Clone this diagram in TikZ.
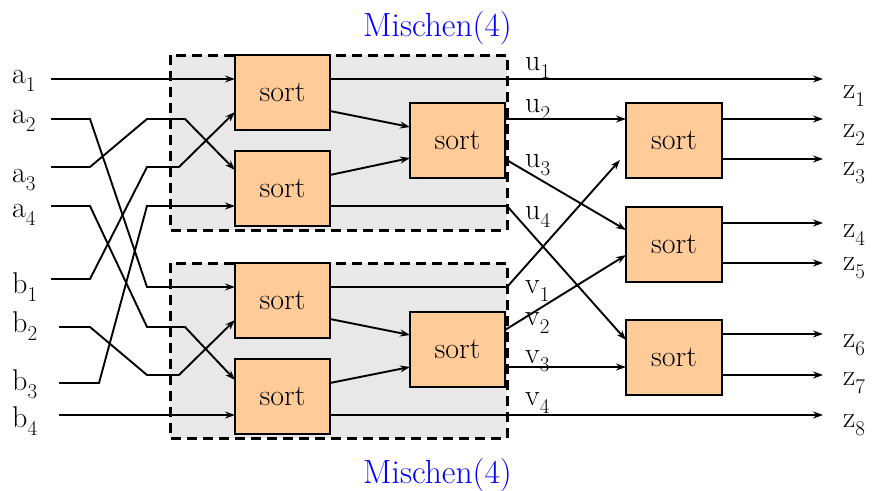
\documentclass[tikz,border=0pt]{standalone}
\usepackage{fontspec}
\setmainfont{Latin Modern Roman}
\usetikzlibrary{arrows.meta}
\definecolor{peach}{RGB}{255,204,153}
\definecolor{boxgrey}{RGB}{232,232,232}
\newcommand{\lbl}[2]{#1\raisebox{-8pt}{\fontsize{21}{21}\selectfont #2}}
\begin{document}
\begin{tikzpicture}[x=1pt,y=-1pt,
  wire/.style={line width=1.9pt},
  arr/.style={wire,-{Stealth[length=10pt,width=7pt]}},
  sortbox/.style={draw,line width=2pt,fill=peach,minimum width=95pt,minimum height=75pt,
    outer sep=0pt,inner sep=0pt,font=\fontsize{30}{36}\selectfont},
  group/.style={fill=boxgrey,draw,line width=3pt,dash pattern=on 10pt off 6pt},
  lab/.style={anchor=base west,inner sep=0pt,font=\fontsize{30}{36}\selectfont},
  title/.style={anchor=base,inner sep=0pt,text=blue,font=\fontsize{33.5}{38}\selectfont}]
\useasboundingbox (0,0) rectangle (875,490);
% groups
\path[group] (170,55) rectangle (507,230);
\path[group] (170,263) rectangle (507,438);
% sort nodes
\node[sortbox] (S1) at (282.5,92.5) {sort};
\node[sortbox] (S2) at (282.5,188.5) {sort};
\node[sortbox] (M1) at (457.5,140.5) {sort};
\node[sortbox] (S3) at (282.5,300.5) {sort};
\node[sortbox] (S4) at (282.5,396.5) {sort};
\node[sortbox] (M2) at (457.5,349) {sort};
\node[sortbox,minimum width=96pt] (R1) at (674,140.5) {sort};
\node[sortbox,minimum width=96pt] (R2) at (674,244.5) {sort};
\node[sortbox,minimum width=96pt] (R3) at (674,357) {sort};
% input coordinates
\coordinate (ia1) at (51,79);
\coordinate (ia2) at (51,119);
\coordinate (ia3) at (51,167);
\coordinate (ia4) at (51,206);
\coordinate (ib1) at (51,279);
\coordinate (ib2) at (59,327);
\coordinate (ib3) at (59,383);
\coordinate (ib4) at (59,415);
% output coordinates
\foreach \n/\y in {1/79,2/119,3/159,4/223,5/263,6/334,7/375,8/415}
  \coordinate (oz\n) at (823,\y);
% inputs
\draw[arr] (ia1) -- (S1.west |- ia1);
\draw[arr] (ia2) -- (90,119) -- (147,287) -- (S3.west |- 0,287);
\draw[arr] (ia3) -- (90,167) -- (147,119) -- (185,119) -- (S2.west |- 0,170);
\draw[arr] (ia4) -- (90,206) -- (147,327) -- (185,327) -- (S4.west |- 0,380);
\draw[arr] (ib1) -- (90,279) -- (147,167) -- (179,167) -- (S1.west |- 0,112);
\draw[arr] (ib2) -- (90,327) -- (147,375) -- (179,375) -- (S3.west |- 0,320);
\draw[arr] (ib3) -- (99,383) -- (147,206) -- (S2.west |- 0,206);
\draw[arr] (ib4) -- (S4.west |- ib4);
% internal
\draw[arr] (S1.east |- 0,111) -- (M1.west |- 0,127);
\draw[arr] (S2.east |- 0,175) -- (M1.west |- 0,158);
\draw[arr] (S3.east |- 0,319) -- (M2.west |- 0,335);
\draw[arr] (S4.east |- 0,383) -- (M2.west |- 0,367);
% outputs of groups
\draw[arr] (S1.east |- oz1) -- (oz1);
\draw[arr] (M1.east |- 0,119) -- (R1.west |- 0,119);
\draw[arr] (M1.east |- 0,159) -- (R2.west |- 0,230);
\draw[arr] (S2.east |- 0,206) -- (507,206) -- (R3.west |- 0,340);
\draw[arr] (S3.east |- 0,287) -- (507,287) -- (620,160);
\draw[arr] (M2.east |- 0,330) -- (R2.west |- 0,255);
\draw[arr] (M2.east |- 0,367) -- (R3.west |- 0,367);
\draw[arr] (S4.east |- oz8) -- (oz8);
% right outputs
\draw[arr] (R1.east |- oz2) -- (oz2);
\draw[arr] (R1.east |- oz3) -- (oz3);
\draw[arr] (R2.east |- oz4) -- (oz4);
\draw[arr] (R2.east |- oz5) -- (oz5);
\draw[arr] (R3.east |- oz6) -- (oz6);
\draw[arr] (R3.east |- oz7) -- (oz7);
% labels
\node[lab] (la1) at (12,83) {\lbl{a}{1}};
\node[lab] (la2) at (12,123) {\lbl{a}{2}};
\node[lab] (la3) at (12,182) {\lbl{a}{3}};
\node[lab] (la4) at (12,217) {\lbl{a}{4}};
\node[lab] (lb1) at (12,293) {\lbl{b}{1}};
\node[lab] (lb2) at (12,332) {\lbl{b}{2}};
\node[lab] (lb3) at (12,390) {\lbl{b}{3}};
\node[lab] (lb4) at (12,427) {\lbl{b}{4}};
\node[lab] (lu1) at (525,70) {\lbl{u}{1}};
\node[lab] (lu2) at (525,112) {\lbl{u}{2}};
\node[lab] (lu3) at (525,167) {\lbl{u}{3}};
\node[lab] (lu4) at (525,219) {\lbl{u}{4}};
\node[lab] (lv1) at (525,293) {\lbl{v}{1}};
\node[lab] (lv2) at (525,325) {\lbl{v}{2}};
\node[lab] (lv3) at (525,363) {\lbl{v}{3}};
\node[lab] (lv4) at (525,405) {\lbl{v}{4}};
\node[lab] (lz1) at (843,98) {\lbl{z}{1}};
\node[lab] (lz2) at (843,137) {\lbl{z}{2}};
\node[lab] (lz3) at (843,175) {\lbl{z}{3}};
\node[lab] (lz4) at (843,237) {\lbl{z}{4}};
\node[lab] (lz5) at (843,270) {\lbl{z}{5}};
\node[lab] (lz6) at (843,347) {\lbl{z}{6}};
\node[lab] (lz7) at (843,385) {\lbl{z}{7}};
\node[lab] (lz8) at (843,427) {\lbl{z}{8}};
\node[title] (t1) at (437.5,36) {Mischen(4)};
\node[title] (t2) at (437.5,483) {Mischen(4)};
\end{tikzpicture}
\end{document}
